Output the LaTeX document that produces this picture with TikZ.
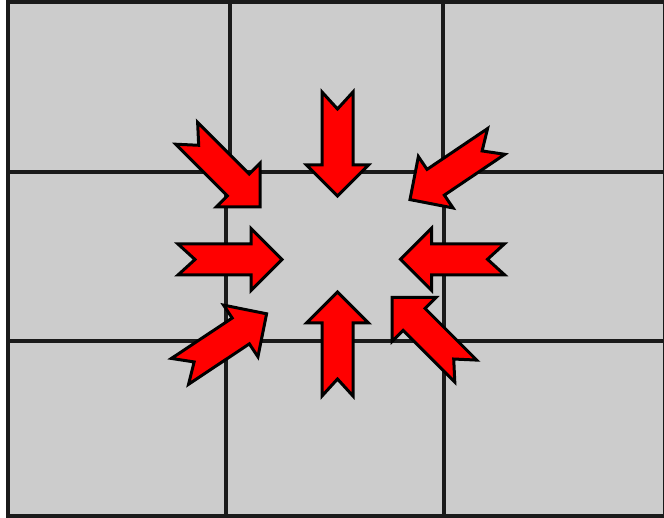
\documentclass[tikz,border=0pt]{standalone}
\usepackage{tikz}
\definecolor{cellgray}{HTML}{CCCCCC}
\definecolor{gridline}{HTML}{1A1A1A}
\definecolor{arrowred}{HTML}{FF0000}
\tikzset{
  gridpen/.style={draw=gridline, line width=4pt},
  arrowpen/.style={draw=black, fill=arrowred, line width=3pt, line join=miter},
  inarrow/.pic={
    \path[arrowpen] (0,0) -- (-31,31) -- (-31,15.5) -- (-104,15.5) -- (-87,0)
      -- (-104,-15.5) -- (-31,-15.5) -- (-31,-31) -- cycle;
  }
}
\begin{document}
\begin{tikzpicture}[x=1pt,y=-1pt]
\useasboundingbox (0,0) rectangle (664,518);
% grid
\fill[cellgray] (8,2) rectangle (665,516);
\draw[gridpen] (8,172) -- (665,172);
\draw[gridpen] (8,340.7) -- (665,340.7);
\draw[gridpen] (230,2) -- (230,172);
\draw[gridpen] (226,172) -- (226,340.7);
\draw[gridpen] (225.5,340.7) -- (225.5,516);
\draw[gridpen] (443,2) -- (443,172);
\draw[gridpen] (444,172) -- (444,340.7);
\draw[gridpen] (443.5,340.7) -- (443.5,516);
\draw[gridpen] (8,2) rectangle (665,516);
% arrows
\pic[rotate=-90] at (337.5,196) {inarrow};
\pic[rotate=90] at (337.5,292) {inarrow};
\pic[rotate=0] at (282,259.5) {inarrow};
\pic[rotate=180] at (400.5,259.3) {inarrow};
\pic[rotate=-45] at (260.2,206.8) {inarrow};
\pic[rotate=214] at (410,199.6) {inarrow};
\pic[rotate=135] at (392.2,297.5) {inarrow};
\pic[rotate=33.6] at (266.6,313.8) {inarrow};
\end{tikzpicture}
\end{document}
